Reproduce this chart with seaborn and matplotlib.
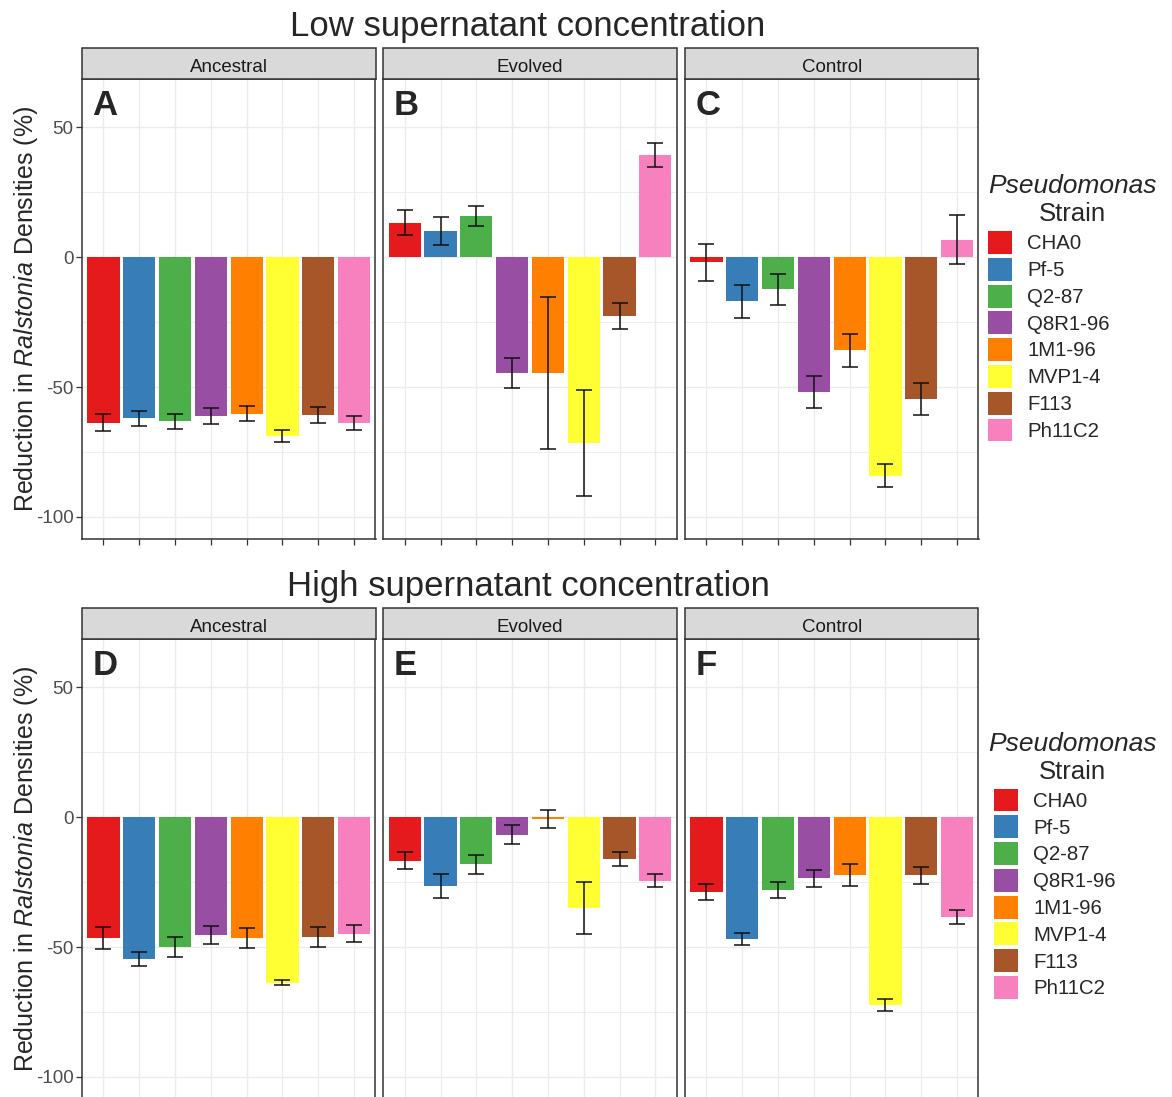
import matplotlib
matplotlib.use("Agg")
import matplotlib.pyplot as plt
import seaborn as sns
import pandas as pd
import numpy as np
from matplotlib.patches import Patch, Rectangle
from matplotlib.ticker import MultipleLocator

# ---------------- data ----------------
strains = ["CHA0", "Pf-5", "Q2-87", "Q8R1-96", "1M1-96", "MVP1-4", "F113", "Ph11C2"]
strain_colors = ["#E41A1C", "#377EB8", "#4DAF4A", "#984EA3", "#FF7F00", "#FFFF33", "#A65628", "#F781BF"]
treatments = ["Ancestral", "Evolved", "Control"]
row_titles = ["Low supernatant concentration", "High supernatant concentration"]
panel_letters = ["A", "B", "C", "D", "E", "F"]
y_ticks = [-100, -50, 0, 50]

low_anc_mean = [-63.7, -62.0, -63.2, -61.2, -60.3, -68.7, -60.8, -63.7]
low_anc_se = [3.3, 2.8, 2.9, 3.1, 2.9, 2.3, 3.1, 2.7]
low_evo_mean = [13.2, 10.0, 15.8, -44.5, -44.5, -71.5, -22.8, 39.5]
low_evo_se = [4.8, 5.4, 3.8, 5.8, 29.2, 20.4, 5.0, 4.6]
low_ctl_mean = [-2.0, -17.0, -12.4, -51.9, -35.9, -84.1, -54.6, 6.7]
low_ctl_se = [7.0, 6.4, 6.1, 6.2, 6.5, 4.5, 6.0, 9.5]

high_anc_mean = [-46.5, -54.5, -50.0, -45.3, -46.5, -63.7, -46.2, -44.9]
high_anc_se = [4.1, 2.7, 4.0, 3.5, 3.9, 0.9, 3.9, 3.3]
high_evo_mean = [-16.7, -26.5, -18.2, -6.7, -0.8, -34.9, -16.2, -24.4]
high_evo_se = [3.3, 4.8, 3.6, 3.8, 3.5, 9.9, 2.7, 2.5]
high_ctl_mean = [-28.7, -46.9, -28.2, -23.6, -22.4, -72.3, -22.4, -38.5]
high_ctl_se = [3.1, 2.3, 3.1, 3.2, 4.2, 2.2, 3.3, 2.8]

# ---------------- style ----------------
sns.set_style("white")
plt.rcParams["font.family"] = ["Liberation Sans", "DejaVu Sans"]
plt.rcParams["mathtext.fontset"] = "custom"
plt.rcParams["mathtext.it"] = "Liberation Sans:italic"
plt.rcParams["mathtext.rm"] = "Liberation Sans"
plt.rcParams["axes.unicode_minus"] = False

W, H = 1172, 1097
fig = plt.figure(figsize=(W / 100, H / 100), dpi=100)


def fx(px):
    return px / W


def fy(py):
    return 1 - py / H


panel_lefts = [82, 383.3, 685]
panel_w = 293.5
panel_h = 459.7
strip_h = 31

rows = [
    dict(title=row_titles[0], title_base=36, top=79.3,
         means=[low_anc_mean, low_evo_mean, low_ctl_mean],
         ses=[low_anc_se, low_evo_se, low_ctl_se],
         letters=panel_letters[:3], leg_title_y=186, leg_top=231, leg_x=988),
    dict(title=row_titles[1], title_base=596, top=639.3,
         means=[high_anc_mean, high_evo_mean, high_ctl_mean],
         ses=[high_anc_se, high_evo_se, high_ctl_se],
         letters=panel_letters[3:], leg_title_y=744, leg_top=788.5, leg_x=994),
]

for row in rows:
    top = row["top"]
    bottom = top + panel_h
    for j, trt in enumerate(treatments):
        left = panel_lefts[j]
        ax = fig.add_axes([fx(left), fy(bottom), panel_w / W, panel_h / H])
        means = row["means"][j]
        ses = row["ses"][j]
        df = pd.DataFrame({"strain": strains, "value": means})
        sns.barplot(data=df, x="strain", y="value", hue="strain", order=strains,
                    hue_order=strains, palette=strain_colors, saturation=1,
                    width=0.9, legend=False, errorbar=None, ax=ax, zorder=2,
                    linewidth=0)
        ax.errorbar(np.arange(len(strains)), means, yerr=ses, fmt="none",
                    ecolor="#111111", elinewidth=1.1, capsize=6, capthick=1.1,
                    zorder=3)
        ax.set_xlim(-0.6, len(strains) - 0.4)
        ax.set_ylim(-108.5, 68.5)
        ax.set_yticks(y_ticks)
        ax.yaxis.set_minor_locator(MultipleLocator(25))
        ax.grid(which="major", color="#EBEBEB", lw=1.0)
        ax.grid(which="minor", axis="y", color="#EBEBEB", lw=0.6)
        ax.set_axisbelow(True)
        ax.set_xlabel("")
        ax.set_ylabel("")
        ax.tick_params(axis="x", which="major", bottom=True, labelbottom=False,
                       length=4, color="#333333", width=0.9)
        ax.tick_params(which="minor", length=0)
        if j == 0:
            ax.tick_params(axis="y", which="major", left=True, length=4,
                           color="#333333", width=0.9, labelsize=13.5,
                           labelcolor="#4D4D4D", pad=2)
        else:
            ax.tick_params(axis="y", which="major", left=False, labelleft=False)
        for sp in ax.spines.values():
            sp.set_color("#333333")
            sp.set_linewidth(1.1)
        ax.text(0.036, 0.922, row["letters"][j], transform=ax.transAxes,
                fontsize=25, fontweight="bold", ha="left", va="baseline")
        # facet strip
        fig.add_artist(Rectangle((fx(left), fy(top)), panel_w / W, strip_h / H,
                                 transform=fig.transFigure, facecolor="#D9D9D9",
                                 edgecolor="#333333", lw=1.1))
        fig.text(fx(left + panel_w / 2), fy(top - 7.5), trt,
                 ha="center", va="baseline", fontsize=13.5, color="#1A1A1A")

    # row title
    fig.text(fx(528), fy(row["title_base"]), row["title"], ha="center",
             va="baseline", fontsize=25)
    # y label
    fig.text(fx(26), fy(top + panel_h / 2),
             "Reduction in $\\it{Ralstonia}$ Densities (%)", rotation=90,
             ha="center", va="center", fontsize=18)
    # legend
    fig.text(fx(1072), fy(row["leg_title_y"]), "Pseudomonas", style="italic",
             ha="center", va="center", fontsize=19)
    fig.text(fx(1072), fy(row["leg_title_y"] + 28), "Strain",
             ha="center", va="center", fontsize=18.5)
    handles = [Patch(facecolor=c, edgecolor="none") for c in strain_colors]
    fig.legend(handles=handles, labels=strains, loc="upper left",
               bbox_to_anchor=(fx(row["leg_x"]), fy(row["leg_top"])),
               frameon=False, fontsize=14.7, handlelength=1.18,
               handleheight=1.35, labelspacing=0.19, handletextpad=0.75,
               borderpad=0, borderaxespad=0)

fig.savefig("out.png", dpi=100)
